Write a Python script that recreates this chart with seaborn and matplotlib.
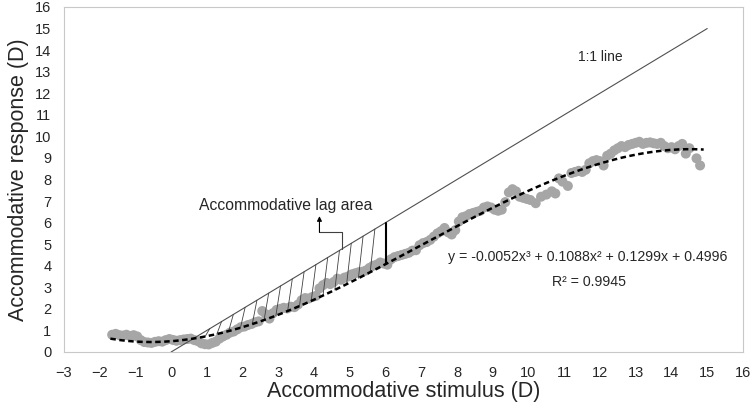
import numpy as np
import pandas as pd
import matplotlib.pyplot as plt
import seaborn as sns

# measured accommodative response vs stimulus (D)
stimulus = [-1.65, -1.55, -1.45, -1.35, -1.25, -1.15, -1.05, -0.95, -0.85, -0.75,
            -0.65, -0.55, -0.45, -0.35, -0.25, -0.15, -0.05, 0.05, 0.15, 0.25,
            0.35, 0.45, 0.55, 0.65, 0.75, 0.85, 0.95, 1.05, 1.15, 1.25,
            1.35, 1.45, 1.55, 1.65, 1.75, 1.85, 1.95, 2.05, 2.15, 2.25,
            2.35, 2.45, 2.55, 2.65, 2.75, 2.85, 2.95, 3.05, 3.15, 3.25,
            3.35, 3.45, 3.55, 3.65, 3.75, 3.85, 3.95, 4.05, 4.15, 4.25,
            4.35, 4.45, 4.55, 4.65, 4.75, 4.85, 4.95, 5.05, 5.15, 5.25,
            5.35, 5.45, 5.55, 5.65, 5.75, 5.85, 5.95, 6.05, 6.15, 6.25,
            6.35, 6.45, 6.55, 6.65, 6.75, 6.85, 6.95, 7.05, 7.15, 7.25,
            7.35, 7.45, 7.55, 7.65, 7.75, 7.85, 7.95, 8.05, 8.15, 8.25,
            8.35, 8.45, 8.55, 8.65, 8.75, 8.85, 8.95, 9.05, 9.15, 9.25,
            9.35, 9.45, 9.55, 9.65, 9.75, 9.85, 9.95, 10.05, 10.2, 10.35,
            10.5, 10.65, 10.75, 10.85, 10.95, 11.1, 11.2, 11.3, 11.4, 11.5,
            11.6, 11.7, 11.8, 11.9, 12.0, 12.1, 12.2, 12.3, 12.4, 12.5,
            12.6, 12.7, 12.8, 12.9, 13.0, 13.1, 13.2, 13.3, 13.4, 13.5,
            13.6, 13.7, 13.8, 13.9, 14.0, 14.1, 14.2, 14.3, 14.4, 14.5,
            14.7, 14.8]
response = [0.80, 0.84, 0.78, 0.76, 0.80, 0.74, 0.78, 0.72, 0.55, 0.46,
            0.44, 0.42, 0.47, 0.50, 0.48, 0.55, 0.60, 0.56, 0.52, 0.55,
            0.58, 0.60, 0.62, 0.55, 0.50, 0.40, 0.36, 0.35, 0.42, 0.48,
            0.62, 0.72, 0.80, 0.90, 0.95, 1.05, 1.15, 1.18, 1.25, 1.30,
            1.38, 1.42, 1.90, 1.75, 1.55, 1.80, 1.95, 2.00, 2.05, 2.02,
            2.10, 2.08, 2.20, 2.40, 2.50, 2.48, 2.55, 2.60, 2.95, 3.10,
            3.20, 3.15, 3.25, 3.40, 3.35, 3.45, 3.50, 3.60, 3.65, 3.70,
            3.72, 3.78, 3.90, 4.00, 4.05, 4.15, 4.10, 4.05, 4.30, 4.40,
            4.45, 4.50, 4.55, 4.60, 4.70, 4.72, 4.95, 5.05, 5.10, 5.20,
            5.35, 5.50, 5.60, 5.75, 5.55, 5.45, 5.65, 6.05, 6.25, 6.30,
            6.40, 6.45, 6.50, 6.55, 6.70, 6.75, 6.70, 6.60, 6.55, 6.60,
            6.95, 7.40, 7.55, 7.45, 7.20, 7.15, 7.10, 7.05, 6.90, 7.20,
            7.30, 7.45, 7.35, 8.05, 7.90, 7.70, 8.30, 8.35, 8.40, 8.35,
            8.45, 8.75, 8.85, 8.90, 8.85, 8.65, 9.10, 9.20, 9.35, 9.45,
            9.55, 9.50, 9.60, 9.65, 9.70, 9.75, 9.65, 9.70, 9.72, 9.68,
            9.65, 9.70, 9.55, 9.45, 9.50, 9.40, 9.55, 9.65, 9.20, 9.45,
            8.98, 8.65]

# cubic trendline printed on the chart
coefs = [-0.0052, 0.1088, 0.1299, 0.4996]
trend_range = [-1.7, 14.9]
identity_range = [0, 15]
lag_end = 6

sns.set_theme(style="white")
plt.rcParams['font.family'] = ['Liberation Sans', 'DejaVu Sans']

fig = plt.figure(figsize=(7.52, 4.11), dpi=100)
ax = fig.add_axes([0.085, 0.1436, 0.903, 0.8394])

df = pd.DataFrame({'stimulus': stimulus, 'response': response})
sns.scatterplot(data=df, x='stimulus', y='response', color='#a6a6a6',
                s=52, edgecolor='none', ax=ax, zorder=2)

poly = np.poly1d(coefs)
xt = np.linspace(trend_range[0], trend_range[1], 300)
sns.lineplot(x=xt, y=poly(xt), color='black', lw=1.8, ax=ax, zorder=4)
ax.lines[-1].set_dashes((2.2, 1.4))

sns.lineplot(x=identity_range, y=identity_range, color='#505050', lw=0.8, ax=ax, zorder=3)

# hatched lag area between the 1:1 line and the fit
for xh in np.arange(0.95, 5.7, 0.33):
    ax.plot([xh, xh + 0.13], [poly(xh), xh + 0.13], color='#404040', lw=0.6, zorder=3)
ax.plot([lag_end, lag_end], [poly(lag_end), lag_end], color='black', lw=1.5, zorder=5)

# elbow pointer to the label
ax.plot([4.79, 4.79, 4.15], [4.79, 5.55, 5.55], color='#404040', lw=0.8, zorder=3)
ax.annotate('', xy=(4.15, 6.3), xytext=(4.15, 5.55),
            arrowprops=dict(arrowstyle='-|>', color='black', lw=0.8,
                            mutation_scale=7, shrinkA=0, shrinkB=0))
ax.text(3.2, 6.8, 'Accommodative lag area', ha='center', va='center', fontsize=11.3)
ax.text(12.0, 13.7, '1:1 line', ha='center', va='center', fontsize=10)
ax.text(11.65, 4.4, 'y = -0.0052x³ + 0.1088x² + 0.1299x + 0.4996',
        ha='center', va='center', fontsize=10.2)
ax.text(11.7, 3.25, 'R² = 0.9945', ha='center', va='center', fontsize=10.2)

ax.set_xlim(-3, 16)
ax.set_ylim(0, 16)
ax.set_xticks(range(-3, 17))
ax.set_yticks(range(0, 17))
ax.tick_params(direction='in', length=4, color='#bfbfbf', labelsize=10.5,
               labelcolor='#262626')
ax.tick_params(axis='x', pad=10)
ax.tick_params(axis='y', pad=9)
for sp in ax.spines.values():
    sp.set_color('#c8c8c8')
    sp.set_linewidth(0.8)

ax.set_xlabel('Accommodative stimulus (D)', fontsize=15.5, labelpad=1)
ax.set_ylabel('Accommodative response (D)', fontsize=15.5, labelpad=4)

fig.savefig('out.png', dpi=100)
